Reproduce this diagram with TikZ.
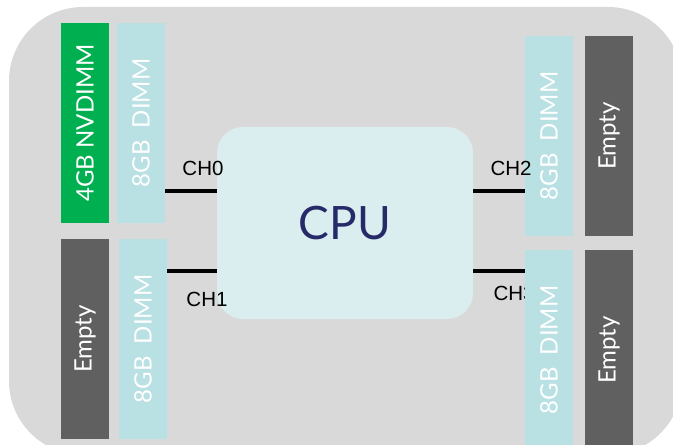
\documentclass[tikz,border=0pt]{standalone}
\usepackage{fontspec}
\setmainfont{Lato}
\newfontfamily\chfont{Liberation Sans}
\definecolor{bggrey}{HTML}{D9D9D9}
\definecolor{nvgreen}{HTML}{00B050}
\definecolor{dimmblue}{HTML}{B9E0E3}
\definecolor{emptygrey}{HTML}{606060}
\definecolor{cpublue}{HTML}{DAEDEF}
\definecolor{cpunavy}{HTML}{262A68}
\tikzset{
  slot/.style={rotate=90, minimum width=200bp, minimum height=48bp, inner sep=0pt,
    text=white, font=\fontsize{24bp}{27bp}\selectfont},
  dimm/.style={slot, fill=dimmblue},
  nvdimm/.style={slot, fill=nvgreen},
  emptyslot/.style={slot, fill=emptygrey},
  chlabel/.style={font=\chfont\fontsize{20.5bp}{23bp}\selectfont, text=black, inner sep=0pt},
  chline/.style={line width=4bp, black}
}
\begin{document}
\begin{tikzpicture}[x=1bp,y=-1bp]
\useasboundingbox (0,0) rectangle (673,445);
\clip (0,0) rectangle (673,445);
\fill[bggrey, rounded corners=74bp] (9,7) rectangle (682,455);
% CPU
\node[fill=cpublue, rounded corners=26bp, minimum width=256bp, minimum height=192bp, inner sep=0pt,
  text=cpunavy, font=\fontsize{46bp}{50bp}\selectfont] (cpu) at (345,223) {CPU};
% channel heights
\coordinate (y0) at (0,191);
\coordinate (y1) at (0,271);
% labels under slots
\node[chlabel] (ch0) at (203,168) {CH0};
\node[chlabel] (ch1) at (207,299) {CH1};
\node[chlabel] (ch3) at (514,293) {CH3};
% slots
\node[nvdimm] (s0a) at (85,123) {4GB NVDIMM};
\node[dimm] (s0b) at (141,123) {8GB\ \ DIMM};
\node[emptyslot] (s1a) at (85,339) {Empty};
\node[dimm] (s1b) at (143,339) {8GB\ \ DIMM};
\node[dimm] (s2b) at (549,136) {8GB\ \ DIMM};
\node[emptyslot] (s2a) at (609,136) {Empty};
\node[dimm] (s3b) at (549,350) {8GB\ \ DIMM};
\node[emptyslot] (s3a) at (609,350) {Empty};
% channel lines
\draw[chline] (s0b.south |- y0) -- (cpu.west |- y0);
\draw[chline] (s1b.south |- y1) -- (cpu.west |- y1);
\draw[chline] (cpu.east |- y0) -- (s2b.north |- y0);
\draw[chline] (cpu.east |- y1) -- (s3b.north |- y1);
\node[chlabel] (ch2) at (511,168) {CH2};
\end{tikzpicture}
\end{document}
